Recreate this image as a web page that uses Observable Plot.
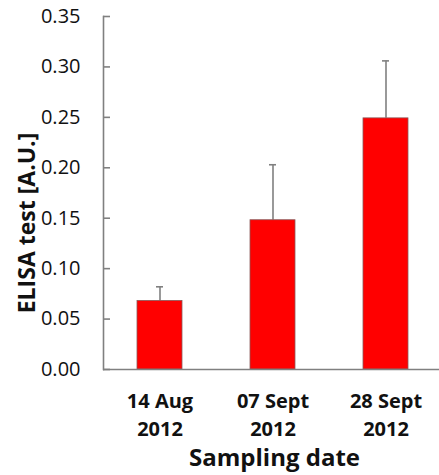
<!DOCTYPE html>
<html><head><meta charset="utf-8">
<script src="https://cdn.jsdelivr.net/npm/d3@7"></script>
<script src="https://cdn.jsdelivr.net/npm/@observablehq/plot@0.6"></script>
<style>body{margin:0;background:#fff;} svg{display:block;}</style>
</head><body><div id="chart"></div>
<script>
const dates = ["14 Aug\n2012", "07 Sept\n2012", "28 Sept\n2012"];
const values = [0.068, 0.148, 0.249];
const errorTop = [0.082, 0.203, 0.306];
const yTicks = [0, 0.05, 0.10, 0.15, 0.20, 0.25, 0.30, 0.35];

const data = dates.map((d, i) => ({date: d, value: values[i], top: errorTop[i]}));
const axisColor = "#808080";
const font = "'Open Sans', Calibri, sans-serif";

const chart = Plot.plot({
  width: 439, height: 475,
  marginLeft: 103, marginRight: 0, marginTop: 16, marginBottom: 106,
  style: {fontFamily: font, background: "#fff"},
  x: {domain: dates, range: [103, 442], paddingInner: 0.6, paddingOuter: 0.3, label: null},
  y: {domain: [0, 0.35], label: null},
  marks: [
    Plot.ruleX(data, {x: "date", y1: "value", y2: "top", stroke: axisColor, strokeWidth: 1.6}),
    Plot.tickY(data, {x: "date", y: "top", stroke: axisColor, strokeWidth: 1.6, insetLeft: 19, insetRight: 19}),
    Plot.barY(data, {x: "date", y: "value", fill: "#ff0000", stroke: "#8a5a5a", strokeWidth: 0.8}),
    Plot.frame({anchor: "left", stroke: axisColor, strokeWidth: 1.6}),
    Plot.ruleY([0], {stroke: axisColor, strokeWidth: 1.6}),
    Plot.tickY(yTicks, {y: d => d, stroke: axisColor, strokeWidth: 1.6, insetRight: 329}),
    Plot.axisY({ticks: yTicks, tickSize: 0, tickPadding: 23, tickFormat: d3.format(".2f"), fontSize: 20, fill: "#111", label: null}),
    Plot.axisX({tickSize: 0, tickPadding: 19, fontSize: 20, fontWeight: "bold", fill: "#111", lineHeight: 1.4, label: null}),
    Plot.text(["ELISA test [A.U.]"], {frameAnchor: "left", textAnchor: "middle", lineAnchor: "middle", dx: -76, dy: 30, rotate: -90, fontSize: 23, fontWeight: "bold", fill: "#111"}),
    Plot.text(["Sampling date"], {frameAnchor: "bottom", lineAnchor: "middle", dy: 89, dx: 3, fontSize: 24, fontWeight: "bold", fill: "#111"})
  ]
});
document.getElementById("chart").append(chart);
</script></body></html>
